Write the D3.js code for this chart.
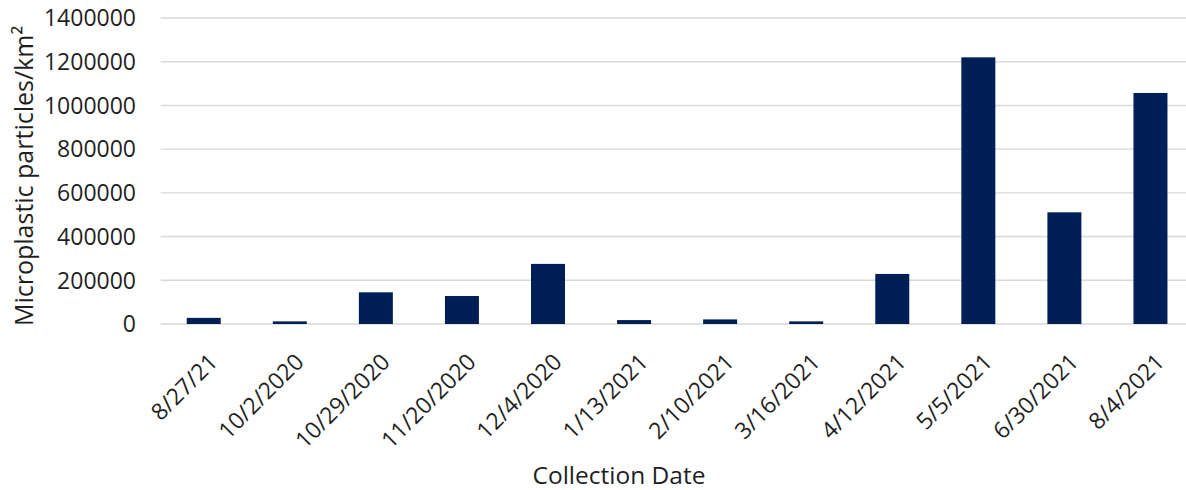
<!DOCTYPE html>
<html>
<head>
<meta charset="utf-8">
<script src="https://cdn.jsdelivr.net/npm/d3@7"></script>
<style>
  html, body { margin: 0; padding: 0; background: #fff; }
  svg { display: block; font-family: "Open Sans", "Noto Sans", sans-serif; }
</style>
</head>
<body>
<svg id="chart" width="1186" height="490"></svg>
<script>
// Collection dates (category axis) and particle densities per km²
const dates = ["8/27/21", "10/2/2020", "10/29/2020", "11/20/2020", "12/4/2020", "1/13/2021",
               "2/10/2021", "3/16/2021", "4/12/2021", "5/5/2021", "6/30/2021", "8/4/2021"];
const particles = [28000, 12000, 145000, 128000, 275000, 18000,
                   21000, 12000, 229000, 1220000, 511000, 1057000];
const yTicks = [0, 200000, 400000, 600000, 800000, 1000000, 1200000, 1400000];

const svg = d3.select("#chart");
const plot = { left: 160.7, right: 1193.5, top: 18, bottom: 324 };

const x = d3.scaleBand()
  .domain(dates)
  .range([plot.left, plot.right])
  .paddingInner(0.605)
  .paddingOuter(0.3025);

const y = d3.scaleLinear()
  .domain([0, 1400000])
  .range([plot.bottom, plot.top]);

// horizontal gridlines
svg.append("g")
  .selectAll("line")
  .data(yTicks)
  .join("line")
  .attr("x1", plot.left)
  .attr("x2", 1186)
  .attr("y1", d => y(d))
  .attr("y2", d => y(d))
  .attr("stroke", "#d9d9d9")
  .attr("stroke-width", 1.4);

// y tick labels
svg.append("g")
  .selectAll("text")
  .data(yTicks)
  .join("text")
  .attr("x", 136)
  .attr("y", d => y(d))
  .attr("dy", "0.36em")
  .attr("text-anchor", "end")
  .attr("font-size", 23)
  .attr("fill", "#1f1f1f")
  .text(d => d3.format("d")(d));

// bars
svg.append("g")
  .selectAll("rect")
  .data(dates.map((d, i) => ({ date: d, value: particles[i] })))
  .join("rect")
  .attr("x", d => x(d.date))
  .attr("width", x.bandwidth())
  .attr("y", d => y(d.value))
  .attr("height", d => y(0) - y(d.value))
  .attr("fill", "#001f56");

// x tick labels, rotated
svg.append("g")
  .selectAll("text")
  .data(dates)
  .join("text")
  .attr("transform", d => `translate(${x(d) + x.bandwidth() / 2 + 4},${plot.bottom + 28}) rotate(-45)`)
  .attr("text-anchor", "end")
  .attr("dy", "0.7em")
  .attr("font-size", 23)
  .attr("fill", "#1f1f1f")
  .text(d => d);

// axis titles
svg.append("text")
  .attr("x", 619)
  .attr("y", 484)
  .attr("text-anchor", "middle")
  .attr("font-size", 24.5)
  .attr("fill", "#1f1f1f")
  .text("Collection Date");

svg.append("text")
  .attr("transform", "translate(33,176) rotate(-90)")
  .attr("text-anchor", "middle")
  .attr("font-size", 25)
  .attr("fill", "#1f1f1f")
  .text("Microplastic particles/km²");
</script>
</body>
</html>
